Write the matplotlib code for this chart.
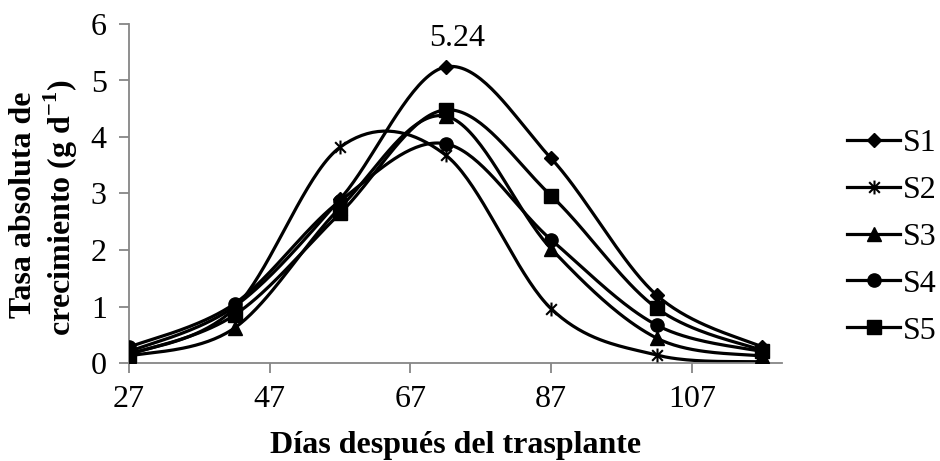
import numpy as np
import matplotlib
matplotlib.use("Agg")
import matplotlib.pyplot as plt
from matplotlib.path import Path

# Days after transplant and absolute growth rate per treatment
days = [27, 42, 57, 72, 87, 102, 117]
s1 = [0.20, 1.00, 2.90, 5.24, 3.62, 1.20, 0.28]
s2 = [0.15, 0.97, 3.82, 3.68, 0.96, 0.14, 0.02]
s3 = [0.12, 0.62, 2.75, 4.37, 2.02, 0.44, 0.12]
s4 = [0.28, 1.05, 2.87, 3.88, 2.18, 0.67, 0.20]
s5 = [0.15, 0.85, 2.65, 4.48, 2.96, 0.97, 0.22]
series_names = ["S1", "S2", "S3", "S4", "S5"]
peak_label = "5.24"
xticks = [27, 47, 67, 87, 107]
yticks = [0, 1, 2, 3, 4, 5, 6]

plt.rcParams["font.family"] = ["Liberation Serif", "DejaVu Serif"]
plt.rcParams["mathtext.fontset"] = "custom"
plt.rcParams["mathtext.rm"] = "Liberation Serif"
plt.rcParams["mathtext.bf"] = "Liberation Serif:bold"

FS = 23


def smooth(x, y, n=40):
    """Cardinal (Catmull-Rom style) Bezier smoothing through the points."""
    x = np.asarray(x, float)
    y = np.asarray(y, float)
    px = np.concatenate([[x[0]], x, [x[-1]]])
    py = np.concatenate([[y[0]], y, [y[-1]]])
    xs, ys = [], []
    t = np.linspace(0, 1, n)
    for i in range(1, len(px) - 2):
        p0 = np.array([px[i], py[i]])
        p3 = np.array([px[i + 1], py[i + 1]])
        c1 = p0 + (p3 - np.array([px[i - 1], py[i - 1]])) / 6
        c2 = p3 - (np.array([px[i + 2], py[i + 2]]) - p0) / 6
        b = ((1 - t) ** 3)[:, None] * p0 + (3 * (1 - t) ** 2 * t)[:, None] * c1 \
            + (3 * (1 - t) * t ** 2)[:, None] * c2 + (t ** 3)[:, None] * p3
        xs.append(b[:, 0])
        ys.append(b[:, 1])
    return np.concatenate(xs), np.concatenate(ys)


# Asterisk marker: an X with a vertical bar
star = Path(
    [(-1, -1), (1, 1), (-1, 1), (1, -1), (0, -1.3), (0, 1.3)],
    [Path.MOVETO, Path.LINETO, Path.MOVETO, Path.LINETO, Path.MOVETO, Path.LINETO],
)

styles = [
    dict(marker="D", markersize=7.5),
    dict(marker=star, markersize=10, markeredgewidth=1.5),
    dict(marker="^", markersize=9.5),
    dict(marker="o", markersize=9.5),
    dict(marker="s", markersize=9.5),
]

fig = plt.figure(figsize=(9.4, 4.61), dpi=100)
ax = fig.add_axes([129 / 940, 1 - 363 / 461, (782 - 129) / 940, (363 - 24) / 461])

for vals, name, st in zip([s1, s2, s3, s4, s5], series_names, styles):
    sx, sy = smooth(days, vals)
    ax.plot(sx, sy, color="black", lw=2.3, solid_capstyle="round", zorder=2)
    ax.plot(days, vals, linestyle="none", color="black", zorder=3, **st)
    ax.plot([], [], color="black", lw=2.3, label=name, **st)

ax.annotate(peak_label, (days[3], s1[3]), xytext=(8, 10), textcoords="offset points",
            ha="center", va="bottom", fontsize=FS)

ax.set_xlim(27, 119.8)
ax.set_ylim(0, 6)
ax.set_xticks(xticks)
ax.set_yticks(yticks)
ax.tick_params(axis="both", labelsize=FS, colors="#868686", labelcolor="black",
               length=7, width=1.3, direction="out")
ax.tick_params(axis="y", pad=9)
ax.tick_params(axis="x", pad=9)
for side in ["top", "right"]:
    ax.spines[side].set_visible(False)
for side in ["left", "bottom"]:
    ax.spines[side].set_color("#868686")
    ax.spines[side].set_linewidth(1.3)

ax.set_xlabel("Días después del trasplante", fontsize=FS, fontweight="bold", labelpad=12)
fig.text(24 / 940, 1 - 205 / 461, "Tasa absoluta de", rotation=90, fontsize=FS,
         fontweight="bold", ha="center", va="center")
fig.text(61 / 940, 1 - 208 / 461, r"crecimiento (g d$^{\mathbf{-1}}$)", rotation=90,
         fontsize=FS, fontweight="bold", ha="center", va="center")

leg = fig.legend(loc="center left", bbox_to_anchor=(847 / 940, 1 - 237 / 461), frameon=False,
                 fontsize=FS, handlelength=1.66, handletextpad=0.1, labelspacing=0.55,
                 borderpad=0, borderaxespad=0)

fig.savefig("out.png", dpi=100)
